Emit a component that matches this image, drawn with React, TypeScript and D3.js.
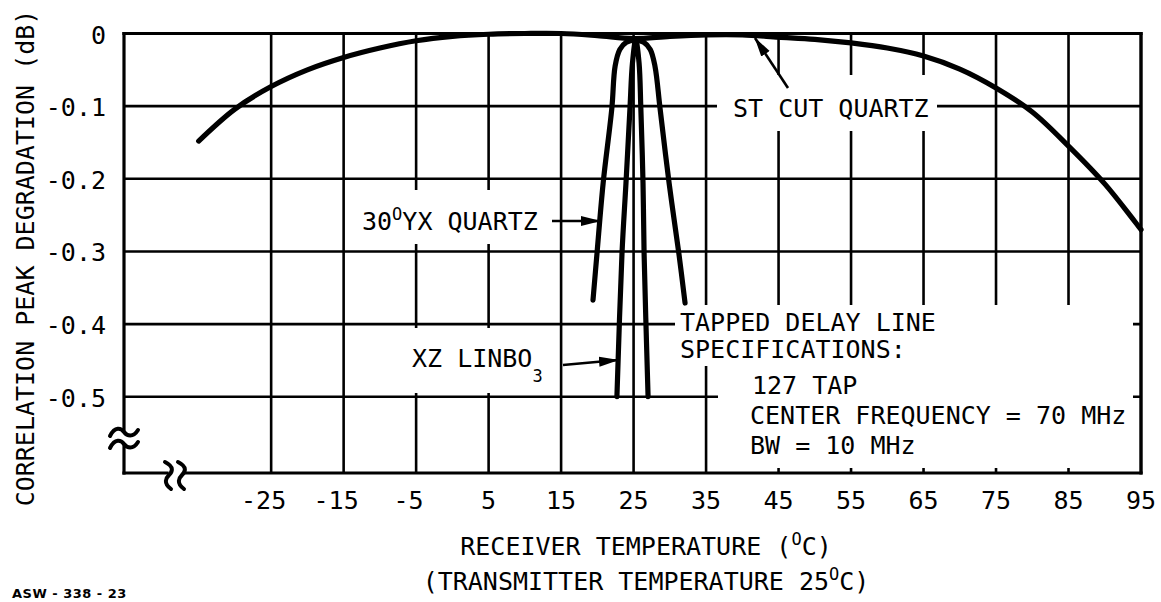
import React from 'react';
import * as d3 from 'd3';

// axis ticks
const xTicks = [-25, -15, -5, 5, 15, 25, 35, 45, 55, 65, 75, 85, 95];
const yTicks = [0, -0.1, -0.2, -0.3, -0.4, -0.5];
const yTickLabels = ['0', '-0.1', '-0.2', '-0.3', '-0.4', '-0.5'];

// ST cut quartz
const stTemp = [-35, -30, -25, -20, -15, -10, -5, 0, 5, 10, 15, 20, 25, 30, 35, 40, 45, 50, 55, 60, 65, 70, 75, 80, 85, 90, 95];
const stDb = [-0.148, -0.104, -0.073, -0.05, -0.033, -0.02, -0.01, -0.004, -0.001, 0, 0, -0.003, -0.007, -0.004, -0.002, -0.002, -0.005, -0.008, -0.013, -0.02, -0.031, -0.049, -0.075, -0.108, -0.155, -0.207, -0.27];

// 30 deg YX quartz
const yxTemp = [19.4, 19.95, 20.8, 22.0, 22.45, 23.1, 24.0, 25.2, 26.4, 27.3, 27.95, 28.65, 29.9, 31.25, 32.1];
const yxDb = [-0.367, -0.303, -0.206, -0.103, -0.045, -0.022, -0.012, -0.009, -0.012, -0.022, -0.045, -0.103, -0.206, -0.303, -0.371];

// XZ LiNbO3
const lnTemp = [22.7, 23.4, 23.95, 24.5, 24.85, 25.3, 25.75, 26.0, 26.3, 26.45, 27.0];
const lnDb = [-0.5, -0.303, -0.206, -0.103, -0.04, -0.009, -0.04, -0.103, -0.206, -0.303, -0.5];

const FONT = "'DejaVu Sans Mono', 'Liberation Mono', monospace";

const App = () => {
    const svgRef = React.useRef<SVGSVGElement>(null);
    const W = 1161, H = 602;

    React.useEffect(() => {
        const svg = d3.select(svgRef.current);
        svg.selectAll('*').remove();

        const x = d3.scaleLinear().domain([-45.3, 95]).range([124, 1141]);
        const y = d3.scaleLinear().domain([-0.605, 0]).range([473, 33.5]);
        const [x0, x1] = x.range();
        const [yb, yt] = y.range();

        svg.append('rect').attr('width', W).attr('height', H).attr('fill', '#fff');

        // arrow marker
        svg.append('defs').append('marker')
            .attr('id', 'arr')
            .attr('markerUnits', 'userSpaceOnUse')
            .attr('markerWidth', 20).attr('markerHeight', 12)
            .attr('refX', 19).attr('refY', 6)
            .attr('orient', 'auto')
            .append('path').attr('d', 'M0,1 L20,6 L0,11 Z').attr('fill', '#000');

        // grid
        const grid = svg.append('g').attr('stroke', '#000').attr('stroke-width', 2.6);
        grid.selectAll('.vx').data(xTicks).enter().append('line')
            .attr('x1', d => x(d)).attr('x2', d => x(d))
            .attr('y1', yt).attr('y2', yb);
        grid.selectAll('.hy').data(yTicks).enter().append('line')
            .attr('x1', x0).attr('x2', x1)
            .attr('y1', d => y(d)).attr('y2', d => y(d));

        // white boxes behind the notes
        const masks = [
            [717, 75, 220, 56],    // ST CUT QUARTZ
            [354, 190, 196, 54],   // 30 YX QUARTZ
            [402, 328, 153, 65],   // XZ LINBO3
            [675, 305, 458, 61],   // TAPPED ... header
            [718, 366, 415, 102],  // specs body
        ];
        svg.append('g').selectAll('rect').data(masks).enter().append('rect')
            .attr('x', d => d[0]).attr('y', d => d[1])
            .attr('width', d => d[2]).attr('height', d => d[3])
            .attr('fill', '#fff');

        // axes with breaks
        const ax = svg.append('g').attr('stroke', '#000').attr('stroke-width', 3.2).attr('fill', 'none')
            .attr('stroke-linecap', 'square');
        ax.append('line').attr('x1', x0).attr('x2', x1).attr('y1', yt).attr('y2', yt);
        ax.append('line').attr('x1', x0).attr('x2', x0).attr('y1', yt).attr('y2', 431);
        ax.append('line').attr('x1', x0).attr('x2', x0).attr('y1', 445).attr('y2', yb);
        ax.append('line').attr('x1', x0).attr('x2', 167).attr('y1', yb).attr('y2', yb);
        ax.append('line').attr('x1', 184).attr('x2', x1).attr('y1', yb).attr('y2', yb);
        ax.append('line').attr('x1', x1).attr('x2', x1).attr('y1', yt).attr('y2', yb);

        const hTilde = (cx: number, cy: number) =>
            `M${cx - 14},${cy + 4} C${cx - 9},${cy - 6} ${cx - 3},${cy - 4} ${cx},${cy} S${cx + 9},${cy + 6} ${cx + 14},${cy - 2}`;
        const vTilde = (cx: number, cy: number) =>
            `M${cx - 4},${cy - 13} C${cx + 6},${cy - 8} ${cx + 3},${cy - 3} ${cx},${cy} S${cx - 6},${cy + 8} ${cx + 2},${cy + 14}`;
        ax.append('path').attr('d', hTilde(x0, 432)).attr('stroke-width', 4).attr('stroke-linecap', 'round');
        ax.append('path').attr('d', hTilde(x0, 444)).attr('stroke-width', 4).attr('stroke-linecap', 'round');
        ax.append('path').attr('d', vTilde(169, yb + 2)).attr('stroke-width', 4).attr('stroke-linecap', 'round');
        ax.append('path').attr('d', vTilde(182, yb + 2)).attr('stroke-width', 4).attr('stroke-linecap', 'round');

        // curves
        const line = d3.line<[number, number]>()
            .x(d => x(d[0])).y(d => y(d[1]))
            .curve(d3.curveCatmullRom.alpha(0.5));
        const series = [
            d3.zip(stTemp, stDb),
            d3.zip(yxTemp, yxDb),
            d3.zip(lnTemp, lnDb),
        ];
        svg.append('g').selectAll('path').data(series).enter().append('path')
            .attr('d', d => line(d as [number, number][]))
            .attr('fill', 'none').attr('stroke', '#000')
            .attr('stroke-width', 5.2).attr('stroke-linecap', 'round').attr('stroke-linejoin', 'round');

        // arrows
        const arrows = [
            [788, 88, 755, 38],
            [552, 221, 600, 221],
            [563, 365, 618, 360],
        ];
        svg.append('g').selectAll('line').data(arrows).enter().append('line')
            .attr('x1', d => d[0]).attr('y1', d => d[1])
            .attr('x2', d => d[2]).attr('y2', d => d[3])
            .attr('stroke', '#000').attr('stroke-width', 2.6)
            .attr('marker-end', 'url(#arr)');

        const txt = svg.append('g').attr('font-family', FONT).attr('font-size', 25).attr('fill', '#000');

        // tick labels
        txt.selectAll('.yl').data(yTicks).enter().append('text')
            .attr('x', 106).attr('y', d => y(d) + 10)
            .attr('text-anchor', 'end')
            .text((d, i) => yTickLabels[i]);
        txt.selectAll('.xl').data(xTicks).enter().append('text')
            .attr('x', d => x(d) - (d < 0 ? 7.5 : 0)).attr('y', 509)
            .attr('text-anchor', 'middle')
            .text(d => String(d));

        // rich text helper with superscripts/subscripts
        const label = (px: number, py: number, parts: [string, string][], anchor = 'start') => {
            const t = txt.append('text').attr('x', px).attr('y', py).attr('text-anchor', anchor);
            let shift = 0;
            parts.forEach(([s, k]) => {
                const target = k === 'sup' ? -10 : k === 'sub' ? 15 : 0;
                t.append('tspan').attr('dy', target - shift)
                    .attr('font-size', k === 'n' ? 25 : 17).text(s);
                shift = target;
            });
            return t;
        };

        // axis titles
        txt.append('text')
            .attr('transform', 'translate(34,258) rotate(-90)')
            .attr('text-anchor', 'middle')
            .text('CORRELATION PEAK DEGRADATION (dB)');
        label(646, 555, [['RECEIVER TEMPERATURE (', 'n'], ['O', 'sup'], ['C)', 'n']], 'middle');
        label(646, 590, [['(TRANSMITTER TEMPERATURE 25', 'n'], ['O', 'sup'], ['C)', 'n']], 'middle');

        // notes
        label(733, 117, [['ST CUT QUARTZ', 'n']]);
        label(362, 230, [['30', 'n'], ['O', 'sup'], ['YX QUARTZ', 'n']]);
        label(412, 367, [['XZ LINBO', 'n'], ['3', 'sub']]);
        label(680, 331, [['TAPPED DELAY LINE', 'n']]);
        label(680, 358, [['SPECIFICATIONS:', 'n']]);
        label(752, 394, [['127 TAP', 'n']]);
        label(750, 424, [['CENTER FREQUENCY = 70 MHz', 'n']]);
        label(750, 454, [['BW = 10 MHz', 'n']]);

        svg.append('text')
            .attr('x', 12).attr('y', 598)
            .attr('font-family', "'DejaVu Sans', sans-serif")
            .attr('font-weight', 'bold').attr('font-size', 13)
            .attr('letter-spacing', 0.5)
            .text('ASW - 338 - 23');

    // eslint-disable-next-line react-hooks/exhaustive-deps
    }, []);

    return (
        <svg ref={svgRef} width={W} height={H}
            style={{ position: 'absolute', left: 0, top: 0, display: 'block' }} />
    );
};

export default App;
